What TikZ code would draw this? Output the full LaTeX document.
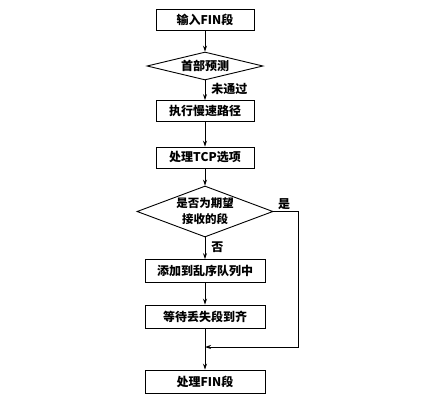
\documentclass[tikz,border=0pt]{standalone}
\usepackage{fontspec}
\setmainfont{Noto Sans CJK SC}
\usetikzlibrary{arrows.meta,shapes.geometric}
\begin{document}
\begin{tikzpicture}[x=1pt,y=-1pt,
  every node/.style={font=\fontsize{12}{14}\selectfont\bfseries},
  boxa/.style={draw,line width=0.9pt,minimum width=98pt,minimum height=21pt,inner sep=0pt},
  boxb/.style={draw,line width=0.9pt,minimum width=120pt,minimum height=23pt,inner sep=0pt},
  dia/.style={draw,line width=0.9pt,diamond,inner sep=0pt},
  arr/.style={line width=0.8pt,-{Stealth[length=6pt,width=4pt]}},
  lbl/.style={inner sep=0pt}]
\useasboundingbox (0,0) rectangle (429,410);
\node[boxa] (b1) at (205,20) {输入FIN段};
\node[dia,minimum width=116pt,minimum height=28pt,aspect=4.1] (d1) at (205,66) {首部预测};
\node[boxa] (b2) at (205,111) {执行慢速路径};
\node[boxa] (b3) at (205,157.5) {处理TCP选项};
\node[dia,minimum width=136pt,minimum height=51pt,aspect=2.67,
      align=center,font=\fontsize{11.5}{16}\selectfont\bfseries] (d2) at (205,211.5) {是否为期望\\接收的段};
\node[boxb] (b4) at (205,271) {添加到乱序队列中};
\node[boxb] (b5) at (205,316.5) {等待丢失段到齐};
\node[boxb] (b6) at (205,381.5) {处理FIN段};
\coordinate (rc) at (298,347);
\coordinate (m) at (205,347);
\draw[arr] (b1) -- (d1);
\draw[arr] (d1) -- node[lbl,right=6pt,pos=0.45] (l1) {未通过} (b2);
\draw[arr] (b2) -- (b3);
\draw[arr] (b3) -- (d2);
\draw[arr] (d2) -- node[lbl,right=6pt,pos=0.45] (l2) {否} (b4);
\draw[arr] (b4) -- (b5);
\draw[arr] (b5) -- (b6);
\draw[arr] (d2.east) -| (rc) -- (m);
\node[lbl] (l3) at (284,204) {是};
\end{tikzpicture}
\end{document}
